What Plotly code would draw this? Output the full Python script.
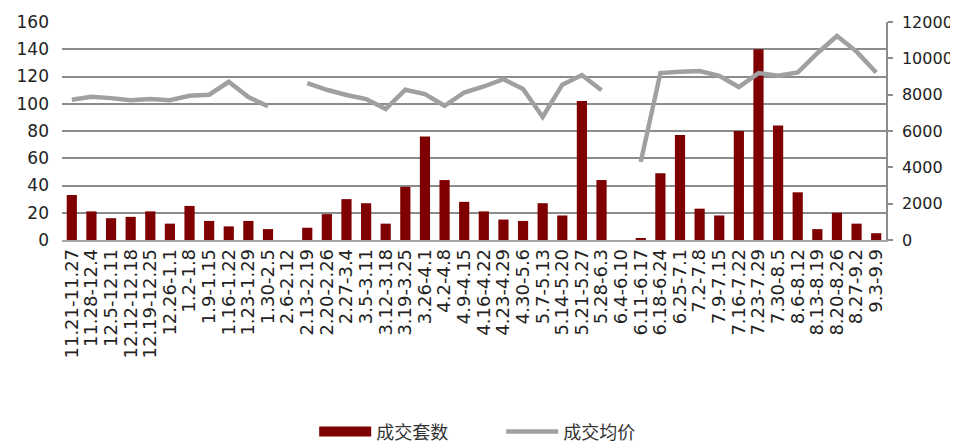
import plotly.graph_objects as go

categories = ["11.21-11.27", "11.28-12.4", "12.5-12.11", "12.12-12.18", "12.19-12.25", "12.26-1.1",
              "1.2-1.8", "1.9-1.15", "1.16-1.22", "1.23-1.29", "1.30-2.5", "2.6-2.12",
              "2.13-2.19", "2.20-2.26", "2.27-3.4", "3.5-3.11", "3.12-3.18", "3.19-3.25",
              "3.26-4.1", "4.2-4.8", "4.9-4.15", "4.16-4.22", "4.23-4.29", "4.30-5.6",
              "5.7-5.13", "5.14-5.20", "5.21-5.27", "5.28-6.3", "6.4-6.10", "6.11-6.17",
              "6.18-6.24", "6.25-7.1", "7.2-7.8", "7.9-7.15", "7.16-7.22", "7.23-7.29",
              "7.30-8.5", "8.6-8.12", "8.13-8.19", "8.20-8.26", "8.27-9.2", "9.3-9.9"]

units_sold = [33, 21, 16, 17, 21, 12,
              25, 14, 10, 14, 8, None,
              9, 19, 30, 27, 12, 39,
              76, 44, 28, 21, 15, 14,
              27, 18, 102, 44, None, 1,
              49, 77, 23, 18, 80, 140,
              84, 35, 8, 20, 12, 5]

avg_price = [7720, 7890, 7810, 7690, 7760, 7690,
             7940, 8000, 8710, 7870, 7360, None,
             8640, 8270, 7980, 7760, 7210, 8270,
             8030, 7390, 8120, 8450, 8850, 8310,
             6770, 8550, 9080, 8240, None, 4300,
             9190, 9260, 9300, 9040, 8420, 9190,
             9040, 9220, 10280, 11230, 10370, 9220]

left_ticks = [0, 20, 40, 60, 80, 100, 120, 140, 160]
right_ticks = [0, 2000, 4000, 6000, 8000, 10000, 12000]

BAR_COLOR = "#7f0000"
LINE_COLOR = "#a0a0a0"

fig = go.Figure()
fig.add_trace(go.Bar(
    x=categories, y=units_sold, name="成交套数", showlegend=False,
    marker=dict(color=BAR_COLOR, line=dict(width=0)),
))
# legend entry for the bars, drawn as a wide swatch
fig.add_trace(go.Scatter(
    x=[None], y=[None], name="成交套数", mode="lines",
    line=dict(color=BAR_COLOR, width=14), hoverinfo="skip",
))
fig.add_trace(go.Scatter(
    x=categories, y=avg_price, name="成交均价", yaxis="y2",
    mode="lines", line=dict(color=LINE_COLOR, width=4.5),
    connectgaps=False,
))

# page body has an 8px default margin, so the figure is sized to fit the 958x447 window
fig.update_layout(
    width=950, height=439,
    margin=dict(l=54, r=72, t=14, b=207, autoexpand=False),
    paper_bgcolor="white", plot_bgcolor="white",
    bargap=0.48,
    font=dict(family="DejaVu Sans", color="#333333"),
    showlegend=True,
    legend=dict(orientation="h", x=0.533, xanchor="center", y=-0.88, yanchor="middle",
                font=dict(family="Noto Sans CJK SC", size=18, color="#333333"),
                itemwidth=52, entrywidth=120, traceorder="normal"),
    xaxis=dict(
        type="category", tickangle=-90, showgrid=False,
        tickmode="linear", tick0=0, dtick=1,
        showline=True, linecolor="#a6a6a6", linewidth=1.5,
        ticks="", tickfont=dict(family="DejaVu Sans", size=18, color="#222222"),
        automargin=False,
    ),
    yaxis=dict(
        range=[0, 160], tickvals=left_ticks, showgrid=True,
        gridcolor="#8c8c8c", gridwidth=1.5, zeroline=False,
        showline=False, ticks="", ticklabelstandoff=12,
        tickfont=dict(family="DejaVu Sans", size=17, color="#222222"),
        automargin=False,
    ),
    yaxis2=dict(
        range=[0, 12000], tickvals=right_ticks, tickformat="d",
        overlaying="y", side="right",
        showgrid=False, zeroline=False,
        showline=True, linecolor="#8c8c8c", linewidth=1.5,
        ticks="outside", ticklen=5, tickcolor="#8c8c8c", tickwidth=1.5,
        ticklabelstandoff=6,
        tickfont=dict(family="DejaVu Sans", size=16, color="#222222"),
        automargin=False,
    ),
)

fig.write_html("out.html")
